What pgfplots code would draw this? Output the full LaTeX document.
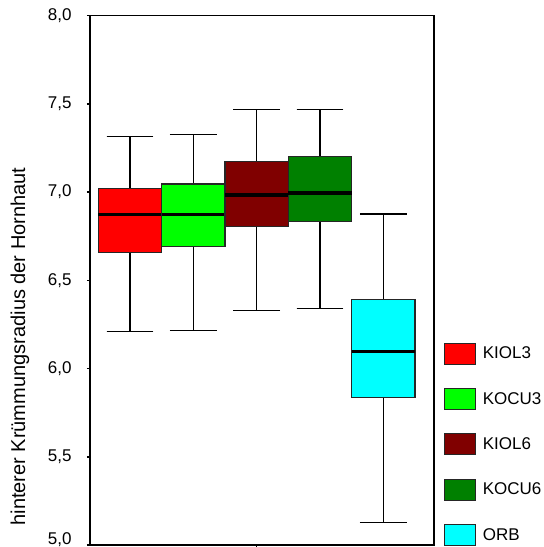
\documentclass[border=0pt]{standalone}
\usepackage{pgfplots}
\pgfplotsset{compat=1.18}
\usepgfplotslibrary{statistics}
\usepackage{fontspec}
\setmainfont{Liberation Sans}
\definecolor{cKIOL3}{RGB}{255,0,0}
\definecolor{cKOCU3}{RGB}{0,255,0}
\definecolor{cKIOL6}{RGB}{128,0,0}
\definecolor{cKOCU6}{RGB}{0,128,0}
\definecolor{cORB}{RGB}{0,255,255}
\pgfplotsset{
  boxleg/.style={legend image code/.code={\filldraw[fill=#1,draw=black!85,line width=0.9pt] (0pt,-10.5pt) rectangle (31pt,10.5pt);}},
}
\begin{document}
\begin{tikzpicture}
\begin{axis}[
  at={(0,0)}, anchor=south west,
  scale only axis, width=344pt, height=529.3pt,
  xmin=0.368, xmax=5.80, ymin=5, ymax=8,
  axis line style={line width=1.4pt, black},
  xtick={3}, xticklabels={},
  ytick={5.5,6,6.5,7,7.5,8},
  extra y ticks={5},
  extra y tick style={yticklabel style={yshift=5pt}},
  tick style={line width=1.6pt, black},
  major tick length=3pt, tick align=outside,
  xtick pos=bottom, ytick pos=left,
  /pgf/number format/assume math mode=true,
  yticklabel style={/pgf/number format/fixed, /pgf/number format/fixed zerofill, /pgf/number format/precision=1, /pgf/number format/use comma, font=\fontsize{17}{20}\selectfont, xshift=-12pt},
  boxplot/draw direction=y,
  boxplot/box extend=1,
  boxplot/whisker extend=0.74,
  boxplot/every box/.style={draw=black!85, line width=1.1pt},
  boxplot/every whisker/.style={black, line width=1.1pt},
  boxplot/every median/.style={black, line width=3.3pt},
  legend style={at={(rel axis cs:1,0)}, anchor=north west, xshift=9.3pt, yshift=202.7pt,
    draw=none, fill=none, inner sep=0pt, row sep=23.5pt, column sep=7.4pt,
    font=\fontsize{17}{20}\selectfont, nodes={inner sep=0pt, anchor=west}},
  legend cell align=left,
]
\addplot+[boxplot prepared={median=6.872, upper quartile=7.022, lower quartile=6.660, upper whisker=7.314, lower whisker=6.211, draw position=1}, fill=cKIOL3, draw=black, mark=none, boxleg=cKIOL3] coordinates {};
\addlegendentry{KIOL3}
\addplot+[boxplot prepared={median=6.872, upper quartile=7.046, lower quartile=6.694, upper whisker=7.328, lower whisker=6.218, draw position=2}, fill=cKOCU3, draw=black, mark=none, boxleg=cKOCU3] coordinates {};
\addlegendentry{KOCU3}
\addplot+[boxplot prepared={median=6.984, upper quartile=7.176, lower quartile=6.804, upper whisker=7.466, lower whisker=6.328, draw position=3}, fill=cKIOL6, draw=black, mark=none, boxleg=cKIOL6] coordinates {};
\addlegendentry{KIOL6}
\addplot+[boxplot prepared={median=6.995, upper quartile=7.201, lower quartile=6.832, upper whisker=7.466, lower whisker=6.339, draw position=4}, fill=cKOCU6, draw=black, mark=none, boxleg=cKOCU6] coordinates {};
\addlegendentry{KOCU6}
\addplot+[boxplot prepared={median=6.095, upper quartile=6.392, lower quartile=5.834, upper whisker=6.876, lower whisker=5.126, draw position=5}, fill=cORB, draw=black, mark=none, boxleg=cORB] coordinates {};
\addlegendentry{ORB}
\end{axis}
\node[rotate=90, font=\fontsize{20}{24}\selectfont] at (-70pt,198.5pt) {hinterer Krümmungsradius der Hornhaut};
\pgfresetboundingbox
\path[use as bounding box] (-90pt,-2pt) rectangle (454pt,545pt);
\end{tikzpicture}
\end{document}
